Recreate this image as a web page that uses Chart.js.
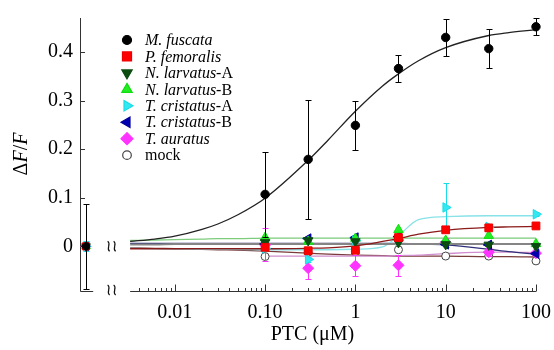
<!DOCTYPE html>
<html>
<head>
<meta charset="utf-8">
<script src="https://cdn.jsdelivr.net/npm/chart.js@4.4.1/dist/chart.umd.min.js"></script>
<style>
  html, body { margin: 0; padding: 0; background: #fff; }
  #wrap { width: 554px; height: 350px; }
</style>
</head>
<body>
<div id="wrap"><canvas id="chart"></canvas></div>
<script>
// PTC concentrations (uM) of the measured points
const concs = [0.1, 0.3, 1, 3, 10, 30, 100];

// dF/F per species
const fuscata    = [0.107, 0.179, 0.249, 0.366, 0.430, 0.407, 0.452];
const fuscataErr = [0.087, 0.122, 0.050, 0.028, 0.038, 0.040, 0.018];
const femoralis  = [-0.002, -0.009, -0.008, 0.018, 0.034, 0.038, 0.042];
const larvatusA  = [0.008, 0.012, 0.010, 0.008, 0.004, 0.003, 0.000];
const larvatusB  = [0.018, 0.010, 0.016, 0.034, 0.012, 0.022, 0.005];
const cristatusA = [-0.004, -0.027, 0.012, 0.012, 0.080, 0.040, 0.066];
const cristatusAErr = [0, 0.005, 0, 0, 0.050, 0, 0.004];
const cristatusB = [0.005, 0.016, 0.018, 0.020, 0.004, 0.003, -0.015];
const auratus    = [0.003, -0.045, -0.040, -0.039, 0.008, -0.012, -0.014];
const auratusErr = [0.034, 0.022, 0.022, 0.022, 0.010, 0.008, 0.006];
const mock       = [-0.021, -0.012, -0.011, -0.007, -0.020, -0.020, -0.030];

// responses at 0 uM (left panel), fuscata error
const zeroValue = 0;
const zeroFuscataErr = 0.087;
const zeroCristatusAErr = 0.01;

// dose-response fit curves
const fitConcs      = [0.0032, 0.006, 0.01, 0.02, 0.03, 0.05, 0.1, 0.3, 0.5, 1, 2, 3, 5, 10, 30, 50, 100];
const fuscataFit    = [0.010, 0.015, 0.021, 0.035, 0.046, 0.065, 0.099, 0.177, 0.219, 0.278, 0.330, 0.355, 0.382, 0.409, 0.434, 0.440, 0.446];
const femoralisFit  = [-0.005, -0.005, -0.005, -0.005, -0.005, -0.005, -0.005, -0.004, -0.003, 0.001, 0.010, 0.016, 0.025, 0.033, 0.039, 0.040, 0.041];
const larvatusAFit  = [0.004, 0.004, 0.005, 0.005, 0.005, 0.005, 0.005, 0.005, 0.005, 0.005, 0.005, 0.005, 0.005, 0.005, 0.005, 0.005, 0.005];
const larvatusBFit  = [0.012, 0.013, 0.014, 0.015, 0.016, 0.016, 0.017, 0.017, 0.017, 0.017, 0.017, 0.017, 0.017, 0.017, 0.017, 0.017, 0.017];
const cristatusAFit = [-0.004, -0.005, -0.005, -0.006, -0.006, -0.006, -0.007, -0.007, -0.007, -0.006, -0.001, 0.022, 0.055, 0.061, 0.063, 0.063, 0.063];
const cristatusBFit = [0.006, 0.006, 0.006, 0.006, 0.006, 0.006, 0.006, 0.006, 0.006, 0.006, 0.006, 0.006, 0.005, 0.003, -0.006, -0.011, -0.016];
const auratusFit    = [null, null, null, null, null, null, -0.020, -0.020, -0.020, -0.020, -0.020, -0.019, -0.018, -0.015, -0.012, -0.012, -0.013];
const mockFit       = [-0.003, -0.004, -0.005, -0.006, -0.007, -0.008, -0.010, -0.014, -0.016, -0.018, -0.019, -0.020, -0.020, -0.020, -0.021, -0.021, -0.022];

// axis ticks
const xTicks = [0.01, 0.1, 1, 10, 100];
const xTickLabels = ['0.01', '0.10', '1', '10', '100'];
const yTicks = [0, 0.1, 0.2, 0.3, 0.4];
const yTickLabels = ['0', '0.1', '0.2', '0.3', '0.4'];

const SERIF = "'Liberation Serif', 'Times New Roman', serif";

const series = [
  { name: [['M. fuscata', true]], values: fuscata, err: fuscataErr, zeroErr: zeroFuscataErr, fit: fuscataFit,
    color: '#000000', fill: '#000000', style: 'circle', rot: 0, r: 4.2, legR: 4.5, fitColor: '#222222' },
  { name: [['P. femoralis', true]], values: femoralis, fit: femoralisFit,
    color: '#ee0000', fill: '#ff0000', style: 'rect', rot: 0, r: 5.5, legR: 6.4, fitColor: '#8b1a1a' },
  { name: [['N. larvatus', true], ['-A', false]], values: larvatusA, fit: larvatusAFit,
    color: '#0b4d10', fill: '#0b4d10', style: 'triangle', rot: 180, r: 5.5, legR: 6, fitColor: '#858585' },
  { name: [['N. larvatus', true], ['-B', false]], values: larvatusB, fit: larvatusBFit,
    color: '#11dd11', fill: '#22ee22', style: 'triangle', rot: 0, r: 5.5, legR: 6, fitColor: '#7ccc7c' },
  { name: [['T. cristatus', true], ['-A', false]], values: cristatusA, err: cristatusAErr, zeroErr: zeroCristatusAErr, fit: cristatusAFit,
    color: '#19dce8', fill: '#33e8f0', style: 'triangle', rot: 90, r: 5.5, legR: 6, fitColor: '#88e2e8' },
  { name: [['T. cristatus', true], ['-B', false]], values: cristatusB, fit: cristatusBFit,
    color: '#00009a', fill: '#0000b0', style: 'triangle', rot: 270, r: 5.5, legR: 6, fitColor: '#30307a' },
  { name: [['T. auratus', true]], values: auratus, err: auratusErr, fit: auratusFit,
    color: '#ff33ff', fill: '#ff33ff', style: 'rectRot', rot: 0, r: 5.5, legR: 6, fitColor: '#d08ed0' },
  { name: [['mock', false]], values: mock, fit: mockFit,
    color: '#444444', fill: '#ffffff', style: 'circle', rot: 0, r: 4, legR: 4.3, fitColor: '#7a3a3a' }
];

const datasets = [];
series.forEach((s) => {
  datasets.push({
    data: concs.map((c, i) => ({ x: c, y: s.values[i] })),
    err: s.err, errColor: s.color,
    pointStyle: s.style, rotation: s.rot, pointRadius: s.r,
    pointBackgroundColor: s.fill, pointBorderColor: s.color, pointBorderWidth: 1,
    showLine: false, order: 1, xAxisID: 'x'
  });
  datasets.push({
    data: [{ x: 0, y: zeroValue }],
    err: s.zeroErr ? [s.zeroErr] : null, errColor: s.color,
    pointStyle: s.style, rotation: s.rot, pointRadius: s.r - 0.5,
    pointBackgroundColor: s.fill, pointBorderColor: s.color, pointBorderWidth: 1,
    showLine: false, order: 1, xAxisID: 'x0'
  });
  datasets.push({
    data: fitConcs.map((c, i) => ({ x: c, y: s.fit[i] })),
    showLine: true, pointRadius: 0, borderColor: s.fitColor, borderWidth: s.fitColor === '#858585' ? 2 : 1.3,
    cubicInterpolationMode: 'monotone', spanGaps: false, order: 2, xAxisID: 'x'
  });
});

function squiggle(ctx, x, y) {
  ctx.beginPath();
  ctx.moveTo(x - 1, y - 5);
  ctx.bezierCurveTo(x + 3, y - 2.5, x - 3, y + 2.5, x + 1, y + 5);
  ctx.stroke();
}

const decorations = {
  id: 'decorations',
  beforeDatasetsDraw(chart) {
    const { ctx, chartArea: a, scales: { x, y, x0 } } = chart;
    ctx.save();
    ctx.strokeStyle = '#333';
    ctx.lineWidth = 1;
    const panelEnd = x0.getPixelForValue(1.2);
    const logStart = x.getPixelForValue(fitConcs[0]);
    const logEnd = x.getPixelForValue(100);
    const b = Math.round(a.bottom) - 0.5;
    ctx.beginPath();
    ctx.moveTo(a.left + 0.5, a.top);
    ctx.lineTo(a.left + 0.5, b);
    ctx.lineTo(panelEnd, b);
    ctx.moveTo(logStart, b);
    ctx.lineTo(logEnd, b);
    // y ticks pointing inward
    yTicks.forEach((v) => {
      const py = Math.round(y.getPixelForValue(v)) + 0.5;
      ctx.moveTo(a.left, py);
      ctx.lineTo(a.left + 5, py);
    });
    // log ticks pointing upward
    for (let d = -3; d <= 2; d++) {
      for (let m = 1; m <= 9; m++) {
        const v = m * Math.pow(10, d);
        if (v < fitConcs[0] || v > 100.001) continue;
        const px = Math.round(x.getPixelForValue(v)) + 0.5;
        ctx.moveTo(px, b);
        ctx.lineTo(px, b - (m === 1 ? 7 : 3.5));
      }
    }
    ctx.stroke();
    // axis break marks
    const bx = (panelEnd + logStart) / 2;
    ctx.lineWidth = 1.2;
    ctx.strokeStyle = '#111';
    [y.getPixelForValue(0), a.bottom - 2].forEach((py) => {
      squiggle(ctx, bx - 3, py);
      squiggle(ctx, bx + 3, py);
    });
    ctx.restore();
  },
  beforeDatasetDraw(chart, args) {
    const ds = chart.data.datasets[args.index];
    if (!ds.err) return;
    const ctx = chart.ctx;
    const xs = chart.scales[ds.xAxisID], ys = chart.scales.y;
    ctx.save();
    ctx.strokeStyle = ds.errColor;
    ctx.lineWidth = 1;
    ctx.beginPath();
    ds.data.forEach((p, i) => {
      const e = ds.err[i];
      if (!e) return;
      const px = Math.round(xs.getPixelForValue(p.x)) + 0.5;
      const top = Math.round(ys.getPixelForValue(p.y + e)) + 0.5;
      const bot = Math.round(ys.getPixelForValue(p.y - e)) + 0.5;
      ctx.moveTo(px, top); ctx.lineTo(px, bot);
      ctx.moveTo(px - 3, top); ctx.lineTo(px + 3, top);
      ctx.moveTo(px - 3, bot); ctx.lineTo(px + 3, bot);
    });
    ctx.stroke();
    ctx.restore();
  },
  afterDraw(chart) {
    const { ctx, chartArea: a } = chart;
    ctx.save();
    ctx.fillStyle = '#000';
    ctx.textBaseline = 'middle';
    // legend
    const lx = 127, tx = 145, ly = 40, step = 16.45;
    series.forEach((s, i) => {
      const py = ly + i * step;
      ctx.fillStyle = s.fill;
      ctx.strokeStyle = s.color;
      ctx.lineWidth = 1.2;
      Chart.helpers.drawPoint(ctx, { pointStyle: s.style, radius: s.legR, rotation: s.rot, borderWidth: 1.2 }, lx, py);
      let cx = tx;
      ctx.fillStyle = '#000';
      ctx.textAlign = 'left';
      s.name.forEach(([txt, it]) => {
        ctx.font = (it ? 'italic ' : '') + '16px ' + SERIF;
        ctx.fillText(txt, cx, py + 1);
        cx += ctx.measureText(txt).width;
      });
    });
    // y title: ΔF/F
    ctx.translate(22, 154);
    ctx.rotate(-Math.PI / 2);
    const parts = [['Δ', false], ['F', true], ['/', false], ['F', true]];
    let w = 0;
    parts.forEach(([t, it]) => { ctx.font = (it ? 'italic ' : '') + '20px ' + SERIF; w += ctx.measureText(t).width; });
    let cx = -w / 2;
    ctx.textAlign = 'left';
    parts.forEach(([t, it]) => {
      ctx.font = (it ? 'italic ' : '') + '20px ' + SERIF;
      ctx.fillText(t, cx, 0);
      cx += ctx.measureText(t).width;
    });
    ctx.setTransform(1, 0, 0, 1, 0, 0);
    // x title
    ctx.font = '20px ' + SERIF;
    ctx.textAlign = 'center';
    ctx.fillText('PTC (μM)', (a.left + a.right) / 2, 335);
    ctx.restore();
  }
};

Chart.defaults.font.family = SERIF;
Chart.defaults.color = '#000';

const noPad = (s) => { s.paddingLeft = 0; s.paddingRight = 0; s.paddingTop = 0; s.paddingBottom = 0; };

new Chart(document.getElementById('chart'), {
  type: 'scatter',
  data: { datasets },
  options: {
    responsive: true,
    maintainAspectRatio: false,
    animation: false,
    layout: { padding: { top: 18, right: 9, left: 0, bottom: 0 } },
    plugins: {
      legend: { display: false },
      tooltip: { enabled: false }
    },
    scales: {
      x: {
        type: 'logarithmic',
        position: 'bottom',
        weight: 1,
        min: Math.pow(10, -3.05),
        max: Math.pow(10, 2.1),
        afterBuildTicks: (s) => { s.ticks = xTicks.map((v) => ({ value: v })); },
        afterFit: (s) => { s.height = 58; noPad(s); },
        grid: { display: false, drawTicks: false },
        border: { display: false },
        ticks: {
          font: { size: 20 },
          padding: 9,
          autoSkip: false,
          maxRotation: 0,
          callback: (v, i) => xTickLabels[i]
        }
      },
      x0: {
        type: 'linear',
        position: 'bottom',
        weight: 0,
        min: -1,
        max: 76.5,
        afterBuildTicks: (s) => { s.ticks = [{ value: 0 }]; },
        afterFit: (s) => { s.height = 0; noPad(s); },
        grid: { display: false, drawTicks: false },
        border: { display: false },
        ticks: { font: { size: 20 }, padding: 9, autoSkip: false, maxRotation: 0, callback: () => '0' }
      },
      y: {
        min: -0.094,
        max: 0.47,
        afterBuildTicks: (s) => { s.ticks = yTicks.map((v) => ({ value: v })); },
        afterFit: (s) => { s.width = 80; noPad(s); },
        grid: { display: false, drawTicks: false },
        border: { display: false },
        ticks: {
          font: { size: 20 },
          padding: 7,
          callback: (v, i) => yTickLabels[i]
        }
      }
    }
  },
  plugins: [decorations]
});
</script>
</body>
</html>
